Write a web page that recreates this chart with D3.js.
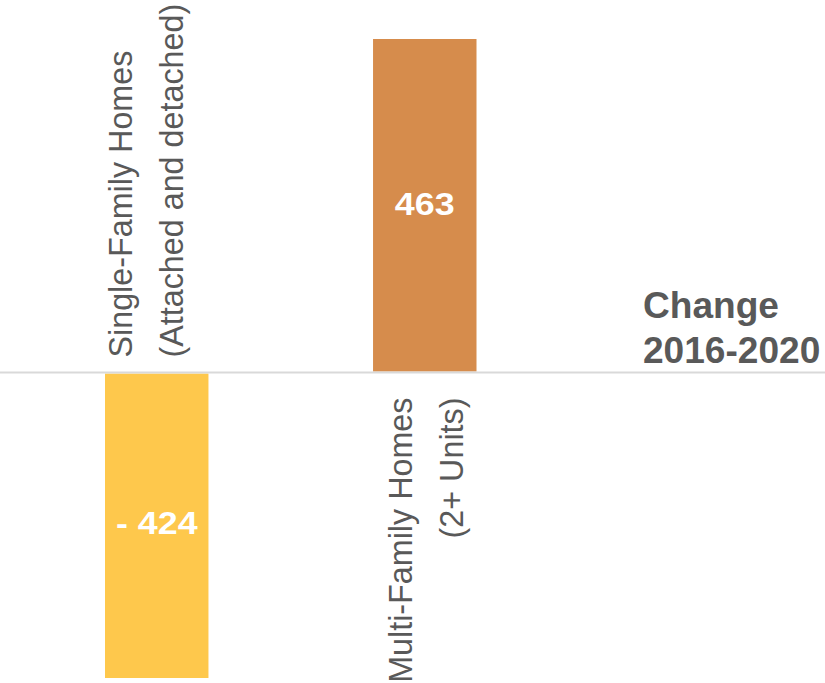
<!DOCTYPE html>
<html>
<head>
<meta charset="utf-8">
<script src="https://cdn.jsdelivr.net/npm/d3@7/dist/d3.min.js"></script>
<style>
  html, body { margin: 0; padding: 0; background: #fff; }
  svg { display: block; }
  text { font-family: "Liberation Sans", Arial, sans-serif; }
</style>
</head>
<body>
<div id="chart"></div>
<script>
// ---- Data ----
const categories = ["Single-Family Homes", "Multi-Family Homes"];
const values = [-424, 463];
const valueLabels = ["- 424", "463"];
const categoryLines = [
  ["Single-Family Homes", "(Attached and detached)"],
  ["Multi-Family Homes", "(2+ Units)"]
];
const barColors = ["#FEC84C", "#D68C4C"];
const titleLines = ["Change", "2016-2020"];

// ---- Layout ----
const W = 825, H = 683;
const svg = d3.select("#chart").append("svg").attr("width", W).attr("height", H);

const x = d3.scaleBand()
  .domain(categories)
  .range([105, 476.5])
  .paddingInner(0.614)
  .paddingOuter(0);

const y = d3.scaleLinear()
  .domain([d3.min(values), d3.max(values)])
  .range([678, 39]);

const data = categories.map((c, i) => ({ cat: c, value: values[i], label: valueLabels[i], color: barColors[i], lines: categoryLines[i], i }));

// bars
svg.selectAll("rect.bar")
  .data(data)
  .join("rect")
  .attr("class", "bar")
  .attr("x", d => x(d.cat))
  .attr("width", x.bandwidth())
  .attr("y", d => Math.min(y(d.value), y(0)) + (d.value < 0 ? 1 : 0))
  .attr("height", d => Math.abs(y(d.value) - y(0)) - 1)
  .attr("fill", d => d.color);

// zero line
svg.append("line")
  .attr("x1", 0).attr("x2", W)
  .attr("y1", y(0)).attr("y2", y(0))
  .attr("stroke", "#D9D9D9")
  .attr("stroke-width", 2);

// value labels
svg.selectAll("text.val")
  .data(data)
  .join("text")
  .attr("class", "val")
  .attr("transform", d => {
    const cx = x(d.cat) + x.bandwidth() / 2;
    const cy = (y(d.value) + y(0)) / 2;
    return `translate(${cx},${cy}) scale(1.12,1)`;
  })
  .attr("text-anchor", "middle")
  .attr("dy", "0.28em")
  .attr("fill", "#fff")
  .attr("font-weight", "bold")
  .attr("font-size", "32px")
  .text(d => d.label);

// category labels (rotated)
const lineGap = 51;
data.forEach(d => {
  const cx = x(d.cat) + x.bandwidth() / 2;
  const neg = d.value < 0;
  const baseX = neg ? cx - 25 : cx - 13;
  const ty = neg ? y(0) - 15 : y(0) + 25;
  d.lines.forEach((ln, k) => {
    svg.append("text")
      .attr("transform", `translate(${baseX + k * lineGap},${ty}) rotate(-90)`)
      .attr("text-anchor", neg ? "start" : "end")
      .attr("fill", "#595959")
      .attr("font-size", "32.3px")
      .text(ln);
  });
});

// title at right
svg.selectAll("text.title")
  .data(titleLines)
  .join("text")
  .attr("class", "title")
  .attr("transform", (d, i) => `translate(643,${318 + i * 45}) scale(1.03,1)`)
  .attr("fill", "#595959")
  .attr("font-weight", "bold")
  .attr("font-size", "36px")
  .text(d => d);
</script>
</body>
</html>
